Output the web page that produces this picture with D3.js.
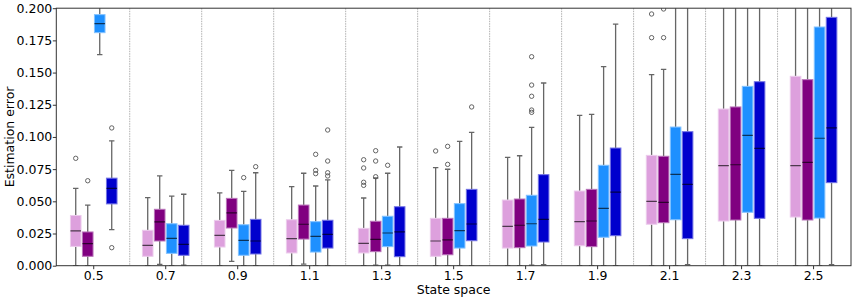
<!DOCTYPE html>
<html>
<head>
<meta charset="utf-8">
<script src="https://cdn.jsdelivr.net/npm/d3@7"></script>
<style>
  body { margin: 0; background: #fff; }
  text { font-family: "DejaVu Sans", sans-serif; }
</style>
</head>
<body>
<div id="chart"></div>
<script>
// categories along x
var categories = ["0.5", "0.7", "0.9", "1.1", "1.3", "1.5", "1.7", "1.9", "2.1", "2.3", "2.5"];
var seriesNames = ["plum", "purple", "dodgerblue", "mediumblue"];
var seriesColors = ["#DDA0DD", "#800080", "#1E90FF", "#0000CD"];

// box stats per category: [low whisker, q1, median, q3, high whisker]
var plumStats = [
  [0, 0.015, 0.027, 0.039, 0.060],
  [0, 0.0073, 0.0158, 0.0275, 0.0528],
  [0, 0.0145, 0.0236, 0.0352, 0.0565],
  [0, 0.0099, 0.021, 0.0357, 0.0614],
  [0, 0.0099, 0.0174, 0.029, 0.0526],
  [0, 0.0073, 0.0192, 0.0368, 0.0761],
  [0, 0.0137, 0.0306, 0.051, 0.0842],
  [0, 0.0155, 0.0342, 0.058, 0.1168],
  [0, 0.0322, 0.050, 0.0857, 0.1484],
  [0, 0.0347, 0.0777, 0.1217, 0.26],
  [0, 0.0378, 0.0777, 0.1471, 0.29]
];
var purpleStats = [
  [0, 0.0073, 0.0171, 0.0262, 0.0471],
  [0.001, 0.0192, 0.034, 0.0438, 0.0697],
  [0.0034, 0.0293, 0.041, 0.0523, 0.0741],
  [0.0013, 0.0207, 0.0322, 0.0471, 0.0718],
  [0.0005, 0.0109, 0.0205, 0.0345, 0.0681],
  [0, 0.0085, 0.020, 0.0368, 0.0749],
  [0, 0.014, 0.0314, 0.0518, 0.0854],
  [0, 0.0148, 0.0347, 0.0593, 0.1176],
  [0, 0.0334, 0.0492, 0.085, 0.1525],
  [0, 0.0355, 0.0784, 0.1233, 0.26],
  [0, 0.0355, 0.0803, 0.1445, 0.29]
];
var dodgerStats = [
  [0.164, 0.181, 0.188, 0.195, 0.22],
  [0, 0.0096, 0.0213, 0.0326, 0.0541],
  [0, 0.0081, 0.0197, 0.0318, 0.0578],
  [0, 0.0106, 0.0228, 0.0342, 0.0619],
  [0.0005, 0.0148, 0.0254, 0.0384, 0.0718],
  [0, 0.0137, 0.0272, 0.0482, 0.0966],
  [0.0005, 0.0153, 0.0326, 0.0547, 0.1075],
  [0, 0.0221, 0.0446, 0.078, 0.1546],
  [0, 0.0357, 0.071, 0.1077, 0.22],
  [0, 0.0415, 0.1013, 0.1393, 0.28],
  [0, 0.037, 0.099, 0.1854, 0.32]
];
var mediumStats = [
  [0.028, 0.048, 0.060, 0.068, 0.097],
  [0.0005, 0.0081, 0.0166, 0.0314, 0.0555],
  [0, 0.0091, 0.0192, 0.036, 0.0722],
  [0, 0.0137, 0.0244, 0.0353, 0.0666],
  [0, 0.007, 0.0262, 0.0458, 0.0922],
  [0, 0.0194, 0.0324, 0.0593, 0.1036],
  [0.0008, 0.0184, 0.036, 0.0707, 0.1419],
  [0, 0.0233, 0.0572, 0.0914, 0.1877],
  [0.0008, 0.021, 0.0632, 0.1041, 0.22],
  [0, 0.0368, 0.0912, 0.1429, 0.28],
  [0.0008, 0.0645, 0.107, 0.1929, 0.33]
];

// outliers per category
var plumOutliers = [[0.0834], [], [], [], [0.0823, 0.0759, 0.0648, 0.0624], [0.0891], [], [], [0.1955, 0.1771], [], []];
var purpleOutliers = [[0.066], [], [], [], [0.0893, 0.0813, 0.0691], [0.0927, 0.0787], [], [], [0.1994, 0.1771], [], []];
var dodgerOutliers = [[], [], [0.0684], [0.0865, 0.0741, 0.0715], [0.078], [], [0.1623, 0.1403, 0.1316, 0.1209, 0.1191], [], [], [], []];
var mediumOutliers = [[0.107, 0.014], [], [0.0769], [0.1054, 0.0813, 0.0722, 0.0697], [], [0.1233], [], [], [], [], []];

var yTicks = [0, 0.025, 0.05, 0.075, 0.1, 0.125, 0.15, 0.175, 0.2];

var allStats = [plumStats, purpleStats, dodgerStats, mediumStats];
var allOutliers = [plumOutliers, purpleOutliers, dodgerOutliers, mediumOutliers];

var width = 856, height = 300;
var plotLeft = 56.3, plotRight = 851, plotTop = 8.2, plotBottom = 265.7;
var boxW = 10.6;
var fontSize = "12.5px";

var svg = d3.select("#chart").append("svg")
  .attr("width", width)
  .attr("height", height);

var x = d3.scaleBand()
  .domain(categories)
  .range([plotLeft, plotRight])
  .paddingInner(0)
  .paddingOuter(0.02);

var xs = d3.scalePoint()
  .domain(seriesNames)
  .range([-18, 18]);

var y = d3.scaleLinear()
  .domain([0, 0.2])
  .range([plotBottom, plotTop]);

svg.append("defs").append("clipPath")
  .attr("id", "plotclip")
  .append("rect")
  .attr("x", plotLeft).attr("y", plotTop)
  .attr("width", plotRight - plotLeft).attr("height", plotBottom - plotTop);

// dotted separators between groups
svg.append("g")
  .selectAll("line")
  .data(categories.slice(1))
  .enter().append("line")
  .attr("x1", function(d){ return x(d); })
  .attr("x2", function(d){ return x(d); })
  .attr("y1", plotTop)
  .attr("y2", plotBottom)
  .attr("stroke", "#b0b0b0")
  .attr("stroke-width", 1)
  .attr("stroke-dasharray", "1.5,1");

var plot = svg.append("g").attr("clip-path", "url(#plotclip)");

// flatten everything into one list of boxes
var boxes = [];
categories.forEach(function(cat, ci){
  seriesNames.forEach(function(s, si){
    var st = allStats[si][ci];
    boxes.push({cat: cat, s: s, color: seriesColors[si],
      lo: st[0], q1: st[1], med: st[2], q3: st[3], hi: st[4],
      out: allOutliers[si][ci]});
  });
});

function cx(d){ return x(d.cat) + x.bandwidth() / 2 + xs(d.s); }

var g = plot.selectAll("g.box")
  .data(boxes)
  .enter().append("g")
  .attr("class", "box");

var whiskerColor = "#666";

// whiskers
g.append("line")
  .attr("x1", cx).attr("x2", cx)
  .attr("y1", function(d){ return y(d.lo); })
  .attr("y2", function(d){ return y(d.q1); })
  .attr("stroke", whiskerColor).attr("stroke-width", 1.3);
g.append("line")
  .attr("x1", cx).attr("x2", cx)
  .attr("y1", function(d){ return y(d.q3); })
  .attr("y2", function(d){ return y(d.hi); })
  .attr("stroke", whiskerColor).attr("stroke-width", 1.3);

// caps
["lo", "hi"].forEach(function(k){
  g.append("line")
    .attr("x1", function(d){ return cx(d) - 2.7; })
    .attr("x2", function(d){ return cx(d) + 2.7; })
    .attr("y1", function(d){ return y(d[k]); })
    .attr("y2", function(d){ return y(d[k]); })
    .attr("stroke", whiskerColor).attr("stroke-width", 1.3);
});

// box body
g.append("rect")
  .attr("x", function(d){ return cx(d) - boxW / 2; })
  .attr("width", boxW)
  .attr("y", function(d){ return y(d.q3); })
  .attr("height", function(d){ return y(d.q1) - y(d.q3); })
  .attr("fill", function(d){ return d.color; })
  .attr("stroke", function(d){ return d3.interpolateRgb(d.color, "#fff")(0.45); })
  .attr("stroke-width", 1);

// median
g.append("line")
  .attr("x1", function(d){ return cx(d) - boxW / 2; })
  .attr("x2", function(d){ return cx(d) + boxW / 2; })
  .attr("y1", function(d){ return y(d.med); })
  .attr("y2", function(d){ return y(d.med); })
  .attr("stroke", "#000")
  .attr("stroke-opacity", 0.65)
  .attr("stroke-width", 1.2);

// outliers
g.selectAll("circle")
  .data(function(d){ return d.out.map(function(v){ return {v: v, b: d}; }); })
  .enter().append("circle")
  .attr("cx", function(o){ return cx(o.b); })
  .attr("cy", function(o){ return y(o.v); })
  .attr("r", 2.2)
  .attr("fill", "none")
  .attr("stroke", "#555")
  .attr("stroke-width", 0.9);

// axes
var yAxis = d3.axisLeft(y)
  .tickValues(yTicks)
  .tickFormat(d3.format(".3f"))
  .tickSize(3.5)
  .tickPadding(0.5);
var yg = svg.append("g")
  .attr("transform", "translate(" + plotLeft + ",0)")
  .call(yAxis);

var xAxis = d3.axisBottom(x)
  .tickSize(3.5)
  .tickPadding(1.5);
var xg = svg.append("g")
  .attr("transform", "translate(0," + plotBottom + ")")
  .call(xAxis);

[yg, xg].forEach(function(a){
  a.select(".domain").remove();
  a.selectAll(".tick line").attr("stroke", "#333");
  a.selectAll(".tick text")
    .attr("fill", "#000")
    .style("font-size", fontSize)
    .style("font-family", "DejaVu Sans");
});

// frame
svg.append("rect")
  .attr("x", plotLeft).attr("y", plotTop)
  .attr("width", plotRight - plotLeft).attr("height", plotBottom - plotTop)
  .attr("fill", "none")
  .attr("stroke", "#333")
  .attr("stroke-width", 1);

svg.append("text")
  .attr("x", (plotLeft + plotRight) / 2)
  .attr("y", 294)
  .attr("text-anchor", "middle")
  .style("font-size", fontSize)
  .text("State space");

svg.append("text")
  .attr("transform", "translate(14," + ((plotTop + plotBottom) / 2) + ") rotate(-90)")
  .attr("text-anchor", "middle")
  .style("font-size", fontSize)
  .text("Estimation error");
</script>
</body>
</html>
